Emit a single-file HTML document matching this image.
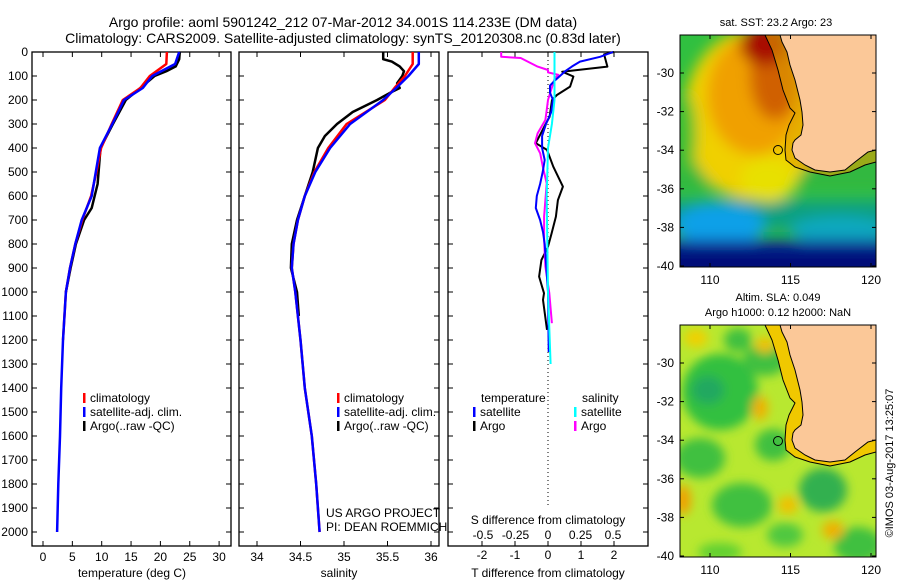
<!DOCTYPE html>
<html><head><meta charset="utf-8"><style>
body{margin:0;background:#fff;}
svg{display:block;font-family:"Liberation Sans",sans-serif;}
text{fill:#000;}
</style></head><body>
<svg id="fig" width="900" height="580" viewBox="0 0 900 580">
<defs>
<filter id="bl" x="-20%" y="-20%" width="140%" height="140%"><feGaussianBlur stdDeviation="7"/></filter>
<filter id="bl2" x="-20%" y="-20%" width="140%" height="140%"><feGaussianBlur stdDeviation="5"/></filter>
<clipPath id="c1"><rect x="680" y="35" width="196" height="232"/></clipPath>
<clipPath id="c2"><rect x="680" y="325" width="196" height="232"/></clipPath>
</defs>
<text x="343" y="27" font-size="14" text-anchor="middle">Argo profile: aoml 5901242_212 07-Mar-2012 34.001S 114.233E (DM data)</text>
<text x="343" y="43" font-size="14" text-anchor="middle">Climatology: CARS2009. Satellite-adjusted climatology: synTS_20120308.nc (0.83d later)</text>

<g id="p1"></g>
<g id="p2"></g>
<g id="p3"></g>

<!-- Map 1: SST -->
<g>
<text x="776" y="26" font-size="11" text-anchor="middle">sat. SST: 23.2 Argo: 23</text>
<g clip-path="url(#c1)">
<rect x="680" y="35" width="196" height="232" fill="#30c040"/>
<g filter="url(#bl)">
<rect x="660" y="130" width="240" height="60" fill="#30b840"/>
<rect x="660" y="200" width="240" height="30" fill="#10a080"/>
<ellipse cx="720" cy="225" rx="45" ry="22" fill="#10a0e8"/>
<ellipse cx="840" cy="230" rx="50" ry="14" fill="#10a8c0"/>
<rect x="660" y="240" width="240" height="40" fill="#0a2a98"/>
<rect x="660" y="250" width="240" height="30" fill="#001078"/>
<ellipse cx="752" cy="115" rx="68" ry="85" fill="#f0d000"/>
<ellipse cx="768" cy="180" rx="28" ry="22" fill="#e8e000"/>
<ellipse cx="755" cy="95" rx="48" ry="60" fill="#f0a000"/>
<ellipse cx="775" cy="75" rx="25" ry="45" fill="#d06000"/>
<ellipse cx="765" cy="45" rx="25" ry="20" fill="#a81000"/>
<ellipse cx="686" cy="135" rx="10" ry="40" fill="#40c030"/>
</g>
<path d="M765,35 L772,50 L778,70 L783,90 L790,108 L795,113 L789,125 L786,135 L785,150 L786,160 L795,167 L810,172 L830,176 L850,172 L865,165 L876,162 L876,150 L868,152 L855,162 L845,170 L830,172 L815,170 L805,165 L795,158 L792,150 L793,143 L795,140 L801,135 L803,125 L802,112 L800,100 L795,80 L790,65 L787,52 L782,42 L780,35 Z" fill="#e0a000" opacity="0.6"/>
<path d="M780,35 L782,42 L787,52 L790,65 L795,80 L800,100 L802,112 L803,125 L801,135 L795,140 L793,143 L792,150 L795,158 L805,165 L815,170 L830,172 L845,170 L855,162 L868,152 L876,150 L876,35 Z" fill="#fbc898" stroke="#000" stroke-width="1"/>
<path d="M765,35 L772,50 L778,70 L783,90 L790,108 L795,113 L789,125 L786,135 L785,150 L786,160 L795,167 L810,172 L830,176 L850,172 L865,165 L876,162" fill="none" stroke="#000" stroke-width="1"/>
</g>
<circle cx="778" cy="150" r="4.5" fill="none" stroke="#000"/>
<rect x="680" y="35" width="196" height="232" fill="none" stroke="#000" stroke-width="1"/>
<g id="m1ax"></g>
</g>

<!-- Map 2: SLA -->
<g>
<text x="778" y="301" font-size="11" text-anchor="middle">Altim. SLA: 0.049</text>
<text x="778" y="316" font-size="11" text-anchor="middle">Argo h1000: 0.12 h2000: NaN</text>
<g clip-path="url(#c2)">
<rect x="680" y="325" width="196" height="232" fill="#b8e830"/>
<g filter="url(#bl2)">
<ellipse cx="720" cy="392" rx="38" ry="38" fill="#30c040"/>
<ellipse cx="708" cy="390" rx="16" ry="14" fill="#20a860"/>
<ellipse cx="765" cy="360" rx="22" ry="16" fill="#40c040"/>
<ellipse cx="738" cy="340" rx="14" ry="12" fill="#40c040"/>
<ellipse cx="700" cy="458" rx="25" ry="20" fill="#40c040"/>
<ellipse cx="773" cy="445" rx="18" ry="16" fill="#40c040"/>
<ellipse cx="742" cy="505" rx="30" ry="22" fill="#40c040"/>
<ellipse cx="823" cy="490" rx="24" ry="22" fill="#30b050"/>
<ellipse cx="785" cy="535" rx="18" ry="12" fill="#50c840"/>
<ellipse cx="858" cy="545" rx="24" ry="18" fill="#40c040"/>
<ellipse cx="720" cy="552" rx="22" ry="9" fill="#60d030"/>
<ellipse cx="760" cy="408" rx="8" ry="12" fill="#f0b000"/>
<ellipse cx="683" cy="500" rx="8" ry="15" fill="#f0a000"/>
<ellipse cx="788" cy="505" rx="10" ry="9" fill="#f0c000"/>
<ellipse cx="833" cy="530" rx="11" ry="9" fill="#f0b000"/>
<ellipse cx="765" cy="345" rx="10" ry="8" fill="#f0c000"/>
<ellipse cx="696" cy="338" rx="12" ry="9" fill="#f0d000"/>
</g>
<g transform="translate(0,290)">
<path d="M765,35 L772,50 L778,70 L783,90 L790,108 L795,113 L789,125 L786,135 L785,150 L786,160 L795,167 L810,172 L830,176 L850,172 L865,165 L876,162 L876,150 L868,152 L855,162 L845,170 L830,172 L815,170 L805,165 L795,158 L792,150 L793,143 L795,140 L801,135 L803,125 L802,112 L800,100 L795,80 L790,65 L787,52 L782,42 L780,35 Z" fill="#f0c800"/>
<path d="M780,35 L782,42 L787,52 L790,65 L795,80 L800,100 L802,112 L803,125 L801,135 L795,140 L793,143 L792,150 L795,158 L805,165 L815,170 L830,172 L845,170 L855,162 L868,152 L876,150 L876,35 Z" fill="#fbc898" stroke="#000" stroke-width="1"/>
<path d="M765,35 L772,50 L778,70 L783,90 L790,108 L795,113 L789,125 L786,135 L785,150 L786,160 L795,167 L810,172 L830,176 L850,172 L865,165 L876,162" fill="none" stroke="#000" stroke-width="1"/>
</g>
</g>
<circle cx="778" cy="441" r="4.5" fill="none" stroke="#000"/>
<rect x="680" y="325" width="196" height="232" fill="none" stroke="#000" stroke-width="1"/>
<g id="m2ax"></g>
</g>
<text transform="translate(893,463) rotate(-90)" font-size="11" text-anchor="middle">©IMOS 03-Aug-2017 13:25:07</text>
</svg>
<script>
// ---- data ----
const depthTicks = [0,100,200,300,400,500,600,700,800,900,1000,1100,1200,1300,1400,1500,1600,1700,1800,1900,2000];
const tempTicks = [0,5,10,15,20,25,30];
const salTicks = [34,34.5,35,35.5,36];
const salTickLabels = ["34","34.5","35","35.5","36"];
const tdTicks = [-2,-1,0,1,2];
const sdTicks = [-0.5,-0.25,0,0.25,0.5];
const sdTickLabels = ["-0.5","-0.25","0","0.25","0.5"];

const profDepth = [0,50,100,150,200,300,400,500,600,700,800,900,1000,1200,1400,1600,1800,2000];
const tempSat  = [23.2,22.5,18.6,17.0,13.8,11.8,9.7,9.0,8.3,6.6,5.5,4.6,3.9,3.4,3.1,2.9,2.6,2.4];
const tempClim = [21.1,21.0,18.2,16.6,13.6,11.7,9.9,9.1,8.2,6.7,5.5,4.6,3.9,3.4,3.1,2.9,2.6,2.4];
const argoTDepth = [0,30,60,80,100,150,200,300,400,550,650,700,800,900,1000];
const tempArgo = [23.3,23.2,22.6,21.0,19.0,16.6,14.1,11.9,9.8,9.3,8.3,7.0,5.6,4.7,3.9];

const salSat  = [35.86,35.86,35.74,35.60,35.45,35.07,34.84,34.67,34.55,34.47,34.42,34.40,34.44,34.50,34.55,34.63,34.68,34.72];
const salClim = [35.79,35.79,35.70,35.58,35.47,35.03,34.82,34.66,34.55,34.47,34.42,34.40,34.44,34.50,34.55,34.63,34.68,34.72];
const argoSDepth = [0,30,40,60,80,100,130,150,170,200,250,300,350,400,450,500,600,700,800,900,1000,1100];
const salArgo = [35.45,35.45,35.55,35.64,35.69,35.67,35.61,35.64,35.53,35.38,35.10,34.92,34.78,34.70,34.67,34.64,34.55,34.46,34.40,34.39,34.46,34.48];

const dtSatDepth = [0,20,40,60,80,100,120,140,170,200,250,300,350,400,450,500,550,600,650,700,750,800,900,1000,1250];
const dtSat = [1.97,1.58,0.97,0.73,0.52,0.36,0.2,0.06,0.06,0.15,0.1,-0.06,-0.18,-0.18,-0.1,-0.16,-0.24,-0.34,-0.37,-0.24,-0.15,-0.1,-0.05,0,0.02];
const dtArgoDepth = [0,10,61,82,102,144,179,200,270,297,380,408,478,561,617,686,756,811,867,936,1005,1033,1158];
const dtArgo = [2.0,1.7,1.8,0.43,0.77,0.67,0.27,0.12,0.05,-0.06,-0.37,-0.03,0.16,0.45,0.3,0.24,0.11,0,-0.2,-0.27,-0.12,-0.15,-0.03];
const dsArgoDepth = [0,20,25,61,75,85,95,112,200,242,283,339,380,422,478,547,617,686,783,894,1005,1130];
const dsArgo = [-0.36,-0.36,-0.21,-0.08,0,0,0.08,0.05,0,-0.01,-0.02,-0.08,-0.1,-0.06,-0.04,-0.01,-0.02,-0.03,-0.03,-0.02,0.01,0.03];
const dsSatDepth = [0,200,300,400,600,1000,1300];
const dsSat = [0.05,0.05,0.03,0,-0.01,0,0.02];

const lonTicks = [110,115,120];
const latTicks = [-30,-32,-34,-36,-38,-40];

// ---- axes ----
const NS="http://www.w3.org/2000/svg";
const TOP=52, BOT=546;
const yD = d => TOP + d*0.24;
const xT = t => 43 + t*5.87;
const xS = s => 257 + (s-34)*87;
const xTD = d => 548 + d*33;
const xSD = s => 548 + s*130;
function mk(parent, tag, attrs){const e=document.createElementNS(NS,tag);for(const k in attrs)e.setAttribute(k,attrs[k]);parent.appendChild(e);return e;}
function txt(parent,x,y,s,anchor,size){const e=mk(parent,'text',{x:x,y:y,'font-size':size||12,'text-anchor':anchor||'middle'});e.textContent=s;return e;}
function line(parent,xs,ds,fx,color,w,name){
  const pts=xs.map((v,i)=>fx(v).toFixed(1)+','+yD(ds[i]).toFixed(1)).join(' ');
  const p=mk(parent,'polyline',{points:pts,fill:'none',stroke:color,'stroke-width':w||2.5,'stroke-linejoin':'round'});
  
  
}
function frame(g,x0,x1,depthLabels){
  mk(g,'rect',{x:x0,y:TOP,width:x1-x0,height:BOT-TOP,fill:'none',stroke:'#000','stroke-width':1.3});
  depthTicks.forEach(d=>{
    const y=yD(d);
    mk(g,'line',{x1:x0,x2:x0+5,y1:y,y2:y,stroke:'#000'});
    mk(g,'line',{x1:x1-5,x2:x1,y1:y,y2:y,stroke:'#000'});
    if(depthLabels){const t=txt(g,28,y+4,String(d),'end',12);
      
      }
  });
}
function xticks(g,vals,labels,fx,ly,tickTop){
  vals.forEach((v,i)=>{
    const x=fx(v);
    mk(g,'line',{x1:x,x2:x,y1:BOT-5,y2:BOT,stroke:'#000'});
    if(tickTop) mk(g,'line',{x1:x,x2:x,y1:TOP,y2:TOP+5,stroke:'#000'});
    const t=txt(g,x,ly,labels[i],'middle',12);
    
    
  });
}
function legendEntry(g,x,y,color,label){
  mk(g,'rect',{x:x,y:y-9,width:2.5,height:10,fill:color});
  const t=txt(g,x+7,y,label,'start',12);
  
  
}

// Panel 1 temperature
const p1=document.getElementById('p1');
frame(p1,32,231,true);
xticks(p1,tempTicks,tempTicks.map(String),xT,561,true);
txt(p1,132,577,'temperature (deg C)','middle',12);
line(p1,tempArgo,argoTDepth,xT,'#000',2.5,'temp-argo-line');
line(p1,tempClim,profDepth.slice(0,14),xT,'#f00',2.5,'temp-climatology-line');
line(p1,tempSat,profDepth,xT,'#00f',2.5,'temp-satellite-line');
legendEntry(p1,83,402,'#f00','climatology');
legendEntry(p1,83,416,'#00f','satellite-adj. clim.');
legendEntry(p1,83,430,'#000','Argo(..raw -QC)');

// Panel 2 salinity
const p2=document.getElementById('p2');
frame(p2,239,439,false);
xticks(p2,salTicks,salTickLabels,xS,561,true);
txt(p2,339,577,'salinity','middle',12);
line(p2,salArgo,argoSDepth,xS,'#000',2.5,'sal-argo-line');
line(p2,salClim,profDepth,xS,'#f00',2.5,'sal-climatology-line');
line(p2,salSat,profDepth,xS,'#00f',2.5,'sal-satellite-line');
legendEntry(p2,337,402,'#f00','climatology');
legendEntry(p2,337,416,'#00f','satellite-adj. clim.');
legendEntry(p2,337,430,'#000','Argo(..raw -QC)');
txt(p2,326,517,'US ARGO PROJECT','start',12);
txt(p2,326,531,'PI: DEAN ROEMMICH','start',12);

// Panel 3 differences
const p3=document.getElementById('p3');
frame(p3,448,648,false);
xticks(p3,tdTicks,tdTicks.map(String),xTD,559,true);
sdTicks.forEach((v,i)=>{const t=txt(p3,xSD(v),539,sdTickLabels[i],'middle',12);
  
  });
txt(p3,548,524,'S difference from climatology','middle',12);
txt(p3,548,577,'T difference from climatology','middle',12);
mk(p3,'line',{x1:548,x2:548,y1:TOP,y2:508,stroke:'#000','stroke-dasharray':'1,3'});
line(p3,dtArgo,dtArgoDepth,xTD,'#000',2,'t-diff-argo-line');
line(p3,dsArgo,dsArgoDepth,xSD,'#f0f',2,'s-diff-argo-line');
line(p3,dtSat,dtSatDepth,xTD,'#00f',2,'t-diff-satellite-line');
line(p3,dsSat,dsSatDepth,xSD,'#0ff',2,'s-diff-satellite-line');
txt(p3,481,402,'temperature','start',12);
txt(p3,582,402,'salinity','start',12);
legendEntry(p3,473,416,'#00f','satellite');
legendEntry(p3,473,430,'#000','Argo');
legendEntry(p3,574,416,'#0ff','satellite');
legendEntry(p3,574,430,'#f0f','Argo');

// Map axes
function mapAxes(id,top,bottom,lblY){
  const g=document.getElementById(id);
  const xL=lon=>710+(lon-110)*16.1;
  const yL=lat=>bottom-1-(lat+40)*19.3;
  lonTicks.forEach(l=>{const x=xL(l);
    mk(g,'line',{x1:x,x2:x,y1:top,y2:top+4,stroke:'#000'});
    mk(g,'line',{x1:x,x2:x,y1:bottom-4,y2:bottom,stroke:'#000'});
    const t=txt(g,x,lblY,String(l),'middle',12);
    
    });
  latTicks.forEach(l=>{const y=yL(l);
    mk(g,'line',{x1:680,x2:684,y1:y,y2:y,stroke:'#000'});
    mk(g,'line',{x1:872,x2:876,y1:y,y2:y,stroke:'#000'});
    const t=txt(g,674,y+4,String(l),'end',12);
    
    });
}
mapAxes('m1ax',35,267,284);
mapAxes('m2ax',325,557,574);
</script>
</body></html>
